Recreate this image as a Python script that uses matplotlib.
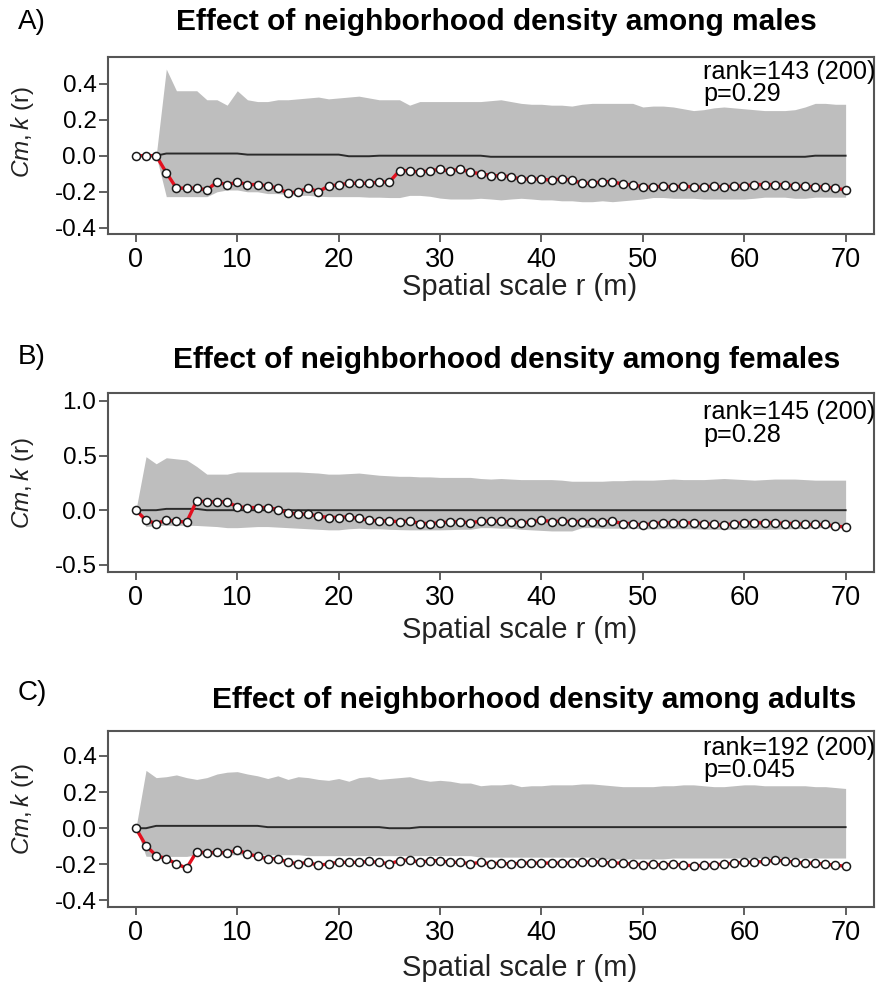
import numpy as np
import matplotlib
matplotlib.use("Agg")
import matplotlib.pyplot as plt

plt.rcParams['font.family'] = ['Liberation Sans', 'DejaVu Sans']
plt.rcParams['mathtext.fontset'] = 'custom'
plt.rcParams['mathtext.it'] = 'Liberation Sans:italic'
plt.rcParams['mathtext.rm'] = 'Liberation Sans'

r = np.arange(0, 71)

# ---------------- Panel A: males ----------------
obs_A = [0, 0, 0, -0.094, -0.18, -0.18, -0.18, -0.19, -0.146, -0.162,
         -0.146, -0.16, -0.16, -0.168, -0.18, -0.208, -0.2, -0.18, -0.2, -0.168,
         -0.162, -0.153, -0.153, -0.153, -0.146, -0.146, -0.083, -0.083, -0.092, -0.083,
         -0.076, -0.085, -0.074, -0.092, -0.10, -0.11, -0.112, -0.116, -0.131, -0.129,
         -0.131, -0.135, -0.129, -0.135, -0.153, -0.153, -0.144, -0.144, -0.158, -0.162,
         -0.172, -0.175, -0.168, -0.174, -0.168, -0.174, -0.174, -0.168, -0.174, -0.168,
         -0.168, -0.160, -0.160, -0.160, -0.160, -0.168, -0.170, -0.172, -0.174, -0.180,
         -0.190]
hi_A = [0, 0, 0, 0.48, 0.36, 0.36, 0.36, 0.31, 0.31, 0.28,
        0.36, 0.31, 0.30, 0.30, 0.31, 0.31, 0.315, 0.32, 0.325, 0.315,
        0.32, 0.325, 0.33, 0.32, 0.31, 0.31, 0.31, 0.28, 0.30, 0.30,
        0.30, 0.30, 0.30, 0.30, 0.30, 0.305, 0.31, 0.30, 0.29, 0.285,
        0.285, 0.28, 0.28, 0.275, 0.285, 0.29, 0.29, 0.29, 0.29, 0.29,
        0.27, 0.275, 0.275, 0.27, 0.26, 0.25, 0.255, 0.265, 0.27, 0.265,
        0.26, 0.255, 0.25, 0.25, 0.25, 0.255, 0.27, 0.29, 0.29, 0.285,
        0.285]
lo_A = [0, 0, 0, -0.227, -0.227, -0.227, -0.227, -0.227, -0.20, -0.19,
        -0.19, -0.20, -0.20, -0.21, -0.21, -0.215, -0.22, -0.22, -0.225, -0.227,
        -0.227, -0.227, -0.227, -0.23, -0.23, -0.232, -0.232, -0.22, -0.22, -0.225,
        -0.235, -0.24, -0.24, -0.24, -0.236, -0.24, -0.245, -0.24, -0.236, -0.24,
        -0.245, -0.245, -0.25, -0.25, -0.255, -0.255, -0.25, -0.255, -0.25, -0.245,
        -0.24, -0.232, -0.232, -0.236, -0.236, -0.236, -0.24, -0.24, -0.24, -0.24,
        -0.24, -0.236, -0.23, -0.23, -0.23, -0.236, -0.236, -0.23, -0.23, -0.23,
        -0.23]
theo_A = [0, 0, 0] + [0.012] * 8 + [0.006] * 10 + [-0.003] * 3 + [0.0] * 11 + [-0.006] * 32 + [0.0] * 4

# ---------------- Panel B: females ----------------
obs_B = [0, -0.092, -0.122, -0.092, -0.10, -0.11, 0.086, 0.076, 0.076, 0.076,
         0.03, 0.024, 0.024, 0.024, 0.006, -0.024, -0.037, -0.037, -0.055, -0.067,
         -0.067, -0.061, -0.076, -0.092, -0.098, -0.098, -0.107, -0.098, -0.122, -0.122,
         -0.116, -0.107, -0.107, -0.116, -0.10, -0.101, -0.101, -0.107, -0.116, -0.107,
         -0.092, -0.104, -0.101, -0.104, -0.104, -0.104, -0.107, -0.101, -0.122, -0.122,
         -0.138, -0.122, -0.116, -0.116, -0.116, -0.116, -0.122, -0.131, -0.138, -0.122,
         -0.116, -0.116, -0.116, -0.116, -0.122, -0.122, -0.131, -0.131, -0.131, -0.147,
         -0.153]
hi_B = [0, 0.49, 0.425, 0.48, 0.47, 0.46, 0.40, 0.33, 0.33, 0.33,
        0.35, 0.35, 0.35, 0.35, 0.35, 0.35, 0.35, 0.345, 0.34, 0.33,
        0.33, 0.335, 0.34, 0.33, 0.32, 0.315, 0.31, 0.31, 0.305, 0.305,
        0.30, 0.30, 0.30, 0.30, 0.29, 0.285, 0.29, 0.285, 0.28, 0.28,
        0.28, 0.28, 0.275, 0.265, 0.265, 0.265, 0.265, 0.27, 0.27, 0.275,
        0.275, 0.275, 0.28, 0.285, 0.28, 0.28, 0.28, 0.285, 0.29, 0.285,
        0.28, 0.275, 0.28, 0.285, 0.285, 0.285, 0.28, 0.275, 0.275, 0.275,
        0.275]
lo_B = [0, -0.15, -0.14, -0.138, -0.138, -0.138, -0.14, -0.145, -0.15, -0.16,
        -0.16, -0.155, -0.15, -0.15, -0.155, -0.16, -0.165, -0.17, -0.175, -0.18,
        -0.18, -0.17, -0.165, -0.17, -0.17, -0.175, -0.178, -0.18, -0.18, -0.18,
        -0.18, -0.178, -0.175, -0.175, -0.16, -0.16, -0.165, -0.165, -0.175, -0.18,
        -0.185, -0.19, -0.19, -0.19, -0.16, -0.16, -0.165, -0.165, -0.165, -0.165,
        -0.17, -0.17, -0.17, -0.17, -0.17, -0.17, -0.175, -0.175, -0.175, -0.175,
        -0.175, -0.175, -0.175, -0.175, -0.17, -0.17, -0.165, -0.16, -0.16, -0.16,
        -0.16]
theo_B = [0, 0, 0] + [0.012] * 4 + [0.0] * 64

# ---------------- Panel C: adults ----------------
obs_C = [0, -0.097, -0.151, -0.169, -0.197, -0.221, -0.129, -0.138, -0.132, -0.138,
         -0.12, -0.142, -0.156, -0.169, -0.169, -0.189, -0.197, -0.189, -0.206, -0.197,
         -0.189, -0.189, -0.189, -0.184, -0.189, -0.197, -0.18, -0.175, -0.189, -0.18,
         -0.18, -0.189, -0.189, -0.197, -0.189, -0.197, -0.193, -0.199, -0.193, -0.193,
         -0.193, -0.193, -0.193, -0.193, -0.189, -0.186, -0.189, -0.193, -0.193, -0.199,
         -0.202, -0.199, -0.204, -0.199, -0.204, -0.208, -0.206, -0.202, -0.199, -0.193,
         -0.189, -0.188, -0.184, -0.178, -0.18, -0.188, -0.193, -0.193, -0.199, -0.204,
         -0.211]
hi_C = [0, 0.32, 0.28, 0.285, 0.295, 0.28, 0.27, 0.28, 0.30, 0.31,
        0.313, 0.30, 0.29, 0.275, 0.29, 0.27, 0.285, 0.28, 0.27, 0.265,
        0.275, 0.26, 0.28, 0.285, 0.27, 0.275, 0.28, 0.285, 0.27, 0.26,
        0.265, 0.26, 0.25, 0.25, 0.235, 0.24, 0.24, 0.245, 0.23, 0.235,
        0.235, 0.24, 0.24, 0.24, 0.245, 0.245, 0.24, 0.235, 0.23, 0.23,
        0.23, 0.23, 0.235, 0.235, 0.24, 0.24, 0.235, 0.23, 0.23, 0.235,
        0.24, 0.24, 0.235, 0.235, 0.235, 0.235, 0.235, 0.23, 0.23, 0.225,
        0.22]
lo_C = [0, -0.155, -0.156, -0.156, -0.156, -0.156, -0.147, -0.147, -0.147, -0.147,
        -0.147, -0.147, -0.147, -0.147, -0.147, -0.147, -0.147, -0.152, -0.152, -0.152,
        -0.152, -0.152, -0.152, -0.152, -0.152, -0.152, -0.152, -0.152, -0.152, -0.152,
        -0.152, -0.152, -0.152, -0.152, -0.16, -0.16, -0.16, -0.16, -0.16, -0.16,
        -0.16, -0.16, -0.16, -0.16, -0.16, -0.16, -0.17, -0.17, -0.17, -0.17,
        -0.17, -0.17, -0.17, -0.165, -0.165, -0.165, -0.165, -0.165, -0.165, -0.165,
        -0.165, -0.165, -0.165, -0.165, -0.165, -0.165, -0.165, -0.165, -0.165, -0.165,
        -0.165]
theo_C = [0, 0] + [0.013] * 11 + [0.006] * 12 + [0.0] * 3 + [0.006] * 43

titles = ["Effect of neighborhood density among males",
          "Effect of neighborhood density among females",
          "Effect of neighborhood density among adults"]
letters = ["A)", "B)", "C)"]
rank_texts = ["rank=143 (200)", "rank=145 (200)", "rank=192 (200)"]
p_texts = ["p=0.29", "p=0.28", "p=0.045"]
yticks_A = [-0.4, -0.2, 0.0, 0.2, 0.4]
yticks_B = [-0.5, 0.0, 0.5, 1.0]
yticks_C = [-0.4, -0.2, 0.0, 0.2, 0.4]
xticks = [0, 10, 20, 30, 40, 50, 60, 70]

W, H = 877, 988
fig = plt.figure(figsize=(W / 100, H / 100), dpi=100)


def fx(x):
    return x / W


def fy(y):
    return 1 - y / H


panels = [
    dict(obs=obs_A, hi=hi_A, lo=lo_A, theo=theo_A, yt=yticks_A, ylim=(-0.434, 0.547),
         top=57, bot=234, title_x=496, title_y=22, let_y=22, rank_y=72, p_y=94,
         xl_y=287, yl_y=132),
    dict(obs=obs_B, hi=hi_B, lo=lo_B, theo=theo_B, yt=yticks_B, ylim=(-0.566, 1.073),
         top=393, bot=572, title_x=507, title_y=360, let_y=357, rank_y=412, p_y=435,
         xl_y=630, yl_y=483),
    dict(obs=obs_C, hi=hi_C, lo=lo_C, theo=theo_C, yt=yticks_C, ylim=(-0.436, 0.538),
         top=731, bot=907, title_x=534, title_y=700, let_y=693, rank_y=748, p_y=770,
         xl_y=968, yl_y=809),
]

left_px, right_px = 107.5, 874

for i, P in enumerate(panels):
    ax = fig.add_axes([fx(left_px), fy(P['bot']), (right_px - left_px) / W,
                       (P['bot'] - P['top']) / H])
    ax.fill_between(r, P['lo'], P['hi'], color='#bebebe', linewidth=0, zorder=1)
    ax.plot(r, P['theo'], color='#2b2b2b', lw=1.4, zorder=2)
    ax.plot(r, P['obs'], color='#e3101f', lw=2.4, zorder=3)
    ax.plot(r, P['obs'], linestyle='none', marker='o', ms=5.8, mfc='white',
            mec='#1a1a1a', mew=1.1, zorder=4)
    ax.set_xlim(-2.8, 72.8)
    ax.set_ylim(*P['ylim'])
    ax.set_xticks(xticks)
    ax.set_xticklabels([str(t) for t in xticks], fontsize=19.5)
    ax.set_yticks(P['yt'])
    ax.set_yticklabels([f"{t:.1f}" for t in P['yt']], fontsize=17.5)
    ax.tick_params(axis='x', direction='out', length=5.5, width=1.2, color='#444444',
                   pad=4)
    ax.tick_params(axis='y', direction='out', length=6.5, width=1.2, color='#444444',
                   pad=1.5)
    for s in ax.spines.values():
        s.set_color('#555555')
        s.set_linewidth(1.5)

    fig.text(fx(P['title_x']), fy(P['title_y']), titles[i], ha='center', va='center',
             fontsize=21.5, fontweight='bold', color='black')
    fig.text(fx(18), fy(P['let_y']), letters[i], ha='left', va='center', fontsize=20,
             color='black')
    fig.text(fx(703), fy(P['rank_y']), rank_texts[i], ha='left', va='center',
             fontsize=18.2, color='black')
    fig.text(fx(703), fy(P['p_y']), p_texts[i], ha='left', va='center',
             fontsize=18.2, color='black')
    fig.text(fx(520), fy(P['xl_y']), "Spatial scale r (m)", ha='center', va='center',
             fontsize=21, color='#222222')
    fig.text(fx(23), fy(P['yl_y']), r"$Cm,k$ (r)", ha='center', va='center',
             rotation=90, fontsize=17.5, color='#222222')

fig.savefig("out.png", dpi=100)
